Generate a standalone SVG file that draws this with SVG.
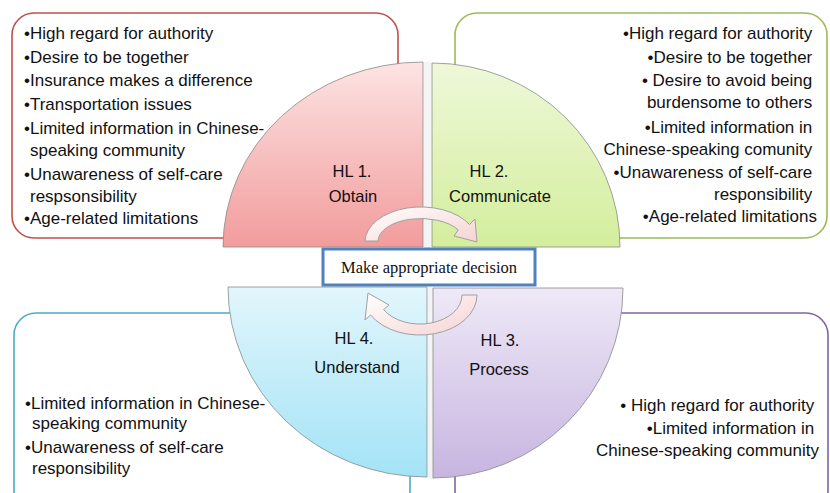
<svg xmlns="http://www.w3.org/2000/svg" width="830" height="493" viewBox="0 0 830 493">
<defs>
<linearGradient id="gRed" x1="0" y1="0" x2="0" y2="1"><stop offset="0" stop-color="#fde3e3"/><stop offset="1" stop-color="#f29c9c"/></linearGradient>
<linearGradient id="gGreen" x1="0" y1="0" x2="0" y2="1"><stop offset="0" stop-color="#eef8d9"/><stop offset="1" stop-color="#d3ee9c"/></linearGradient>
<linearGradient id="gBlue" x1="0" y1="0" x2="0" y2="1"><stop offset="0" stop-color="#e2f6fc"/><stop offset="1" stop-color="#a3e3f6"/></linearGradient>
<linearGradient id="gPurple" x1="0" y1="0" x2="0" y2="1"><stop offset="0" stop-color="#eee9f7"/><stop offset="1" stop-color="#c7b5e0"/></linearGradient>
<linearGradient id="gArrow" x1="0" y1="0" x2="1" y2="1"><stop offset="0" stop-color="#ffffff"/><stop offset="1" stop-color="#f6d3d3"/></linearGradient>
</defs>
<style>
.t{font-family:"Liberation Sans",Arial,sans-serif;font-size:17px;fill:#111}
.lbl{font-family:"Liberation Sans",Arial,sans-serif;font-size:16.5px;fill:#111;text-anchor:middle}
.end{text-anchor:end}
.box{fill:#fff;stroke-width:1.6}
.q{stroke:#8a8a8a;stroke-width:0.8}
.arrow{fill:url(#gArrow);stroke:#a0a0a0;stroke-width:1}
</style>
<rect width="830" height="493" fill="#fff"/>

<g id="box-obtain">
<rect class="box" x="12" y="13" width="386" height="225" rx="22" stroke="#c0504d"/>
<text class="t">
<tspan x="24" y="39">•High regard for authority</tspan>
<tspan x="24" y="63">•Desire to be together</tspan>
<tspan x="24" y="86">•Insurance makes a difference</tspan>
<tspan x="24" y="110">•Transportation issues</tspan>
<tspan x="24" y="134">•Limited information in Chinese-</tspan>
<tspan x="30" y="156">speaking community</tspan>
<tspan x="24" y="180">•Unawareness of self-care</tspan>
<tspan x="30" y="202">respsonsibility</tspan>
<tspan x="24" y="224">•Age-related limitations</tspan>
</text>
</g>

<g id="box-communicate">
<rect class="box" x="455" y="13" width="372" height="225" rx="22" stroke="#9bbb59"/>
<text class="t end">
<tspan x="817" y="39">•High regard for authority</tspan>
<tspan x="817" y="63">•Desire to be together</tspan>
<tspan x="817" y="86">• Desire to avoid being</tspan>
<tspan x="817" y="108">burdensome to others</tspan>
<tspan x="817" y="133">•Limited information in</tspan>
<tspan x="817" y="155">Chinese-speaking comunity</tspan>
<tspan x="817" y="178">•Unawareness of self-care</tspan>
<tspan x="817" y="200">responsibility</tspan>
<tspan x="817" y="222">•Age-related limitations</tspan>
</text>
</g>

<g id="box-understand">
<rect class="box" x="14" y="313" width="396" height="200" rx="22" stroke="#4bacc6"/>
<text class="t">
<tspan x="25" y="409">•Limited information in Chinese-</tspan>
<tspan x="32" y="429">speaking community</tspan>
<tspan x="25" y="453">•Unawareness of self-care</tspan>
<tspan x="32" y="474">responsibility</tspan>
</text>
</g>

<g id="box-process">
<rect class="box" x="455" y="313" width="373" height="200" rx="22" stroke="#8064a2"/>
<text class="t end">
<tspan x="819" y="411">• High regard for authority</tspan>
<tspan x="819" y="434">•Limited information in</tspan>
<tspan x="819" y="456">Chinese-speaking community</tspan>
</text>
</g>

<g id="dividers">
<rect x="424" y="62" width="7" height="186" fill="#f4f4f4"/>
<rect x="428" y="287" width="6" height="192" fill="#f4f4f4"/>
</g>

<g id="hl1">
<path class="q" d="M423,247 L223,247 A200,185 0 0 1 423,62 Z" fill="url(#gRed)"/>
<text class="lbl"><tspan x="352" y="177">HL 1.</tspan><tspan x="353" y="202">Obtain</tspan></text>
</g>
<g id="hl2">
<path class="q" d="M432,247 L432,63 A188,184 0 0 1 620,247 Z" fill="url(#gGreen)"/>
<text class="lbl"><tspan x="489" y="177">HL 2.</tspan><tspan x="500" y="202">Communicate</tspan></text>
</g>
<g id="hl4">
<path class="q" d="M427,287 L228,287 A199,190 0 0 0 427,477 Z" fill="url(#gBlue)"/>
<text class="lbl"><tspan x="354" y="344">HL 4.</tspan><tspan x="357" y="373">Understand</tspan></text>
</g>
<g id="hl3">
<path class="q" d="M433,288 L623,288 A190,190 0 0 1 433,478 Z" fill="url(#gPurple)"/>
<text class="lbl"><tspan x="500" y="346">HL 3.</tspan><tspan x="499" y="375">Process</tspan></text>
</g>

<g id="connectors">
<path class="arrow" d="M365,241 A56,35 0 0 1 469.5,224.5 L475,219 L477,242 L454,236 L458.2,230 A43,23 0 0 0 378,241 Z"/>
<path class="arrow" d="M477,295 A57,40 0 0 1 370.6,315 L365,320 L368,293 L389,305 L383.6,309.5 A42,29 0 0 0 462,295 Z"/>
</g>

<g id="decision">
<rect x="323" y="249" width="212" height="36" fill="#fff" stroke="#4f81bd" stroke-width="3"/>
<text x="429" y="273" text-anchor="middle" font-family="Liberation Serif, Times New Roman, serif" font-size="16.5" fill="#111">Make appropriate decision</text>
</g>
</svg>
